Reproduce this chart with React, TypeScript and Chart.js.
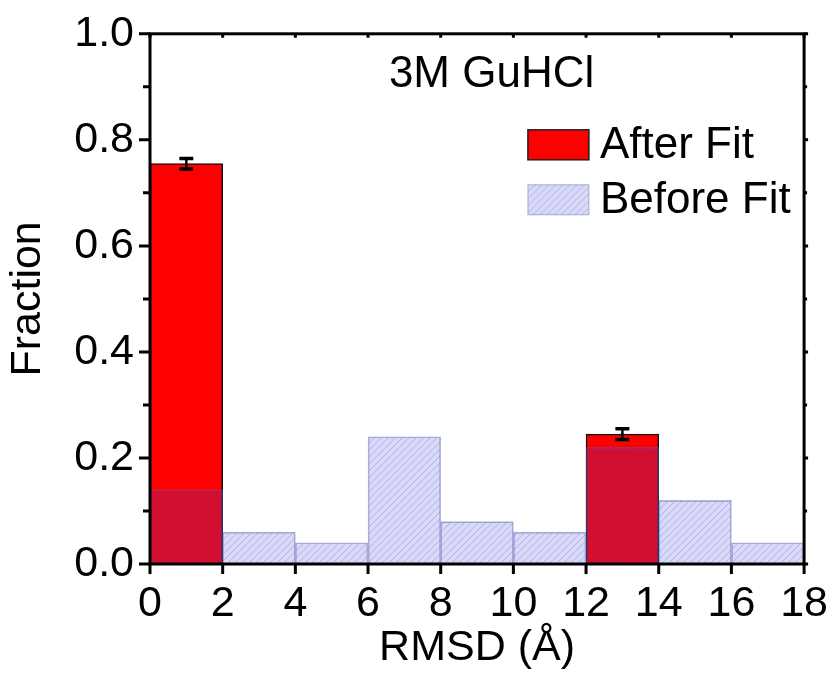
import React, { useEffect, useRef } from "react";
import { Chart, registerables } from "chart.js";

Chart.register(...registerables);

// ---- data ----
const binCenters = [1, 3, 5, 7, 9, 11, 13, 15, 17];
const afterFit: (number | null)[] = [0.755, null, null, null, null, null, 0.245, null, null];
const afterFitErr: (number | null)[] = [0.01, null, null, null, null, null, 0.01, null, null];
const beforeFit = [0.14, 0.06, 0.04, 0.24, 0.08, 0.06, 0.22, 0.12, 0.04];
const xTickValues = [0, 2, 4, 6, 8, 10, 12, 14, 16, 18];
const yTickValues = [0, 0.2, 0.4, 0.6, 0.8, 1.0];
const yMinorTickValues = [0.1, 0.3, 0.5, 0.7, 0.9];
const seriesNames = ["After Fit", "Before Fit"];
const panelTitle = "3M GuHCl";
const xTitle = "RMSD (Å)";
const yTitle = "Fraction";

const FONT = "'Liberation Sans', Arial, Helvetica, sans-serif";

function makeHatch(): CanvasPattern | string {
  const s = 7;
  const c = document.createElement("canvas");
  c.width = s;
  c.height = s;
  const g = c.getContext("2d");
  if (!g) return "rgba(60,60,220,0.2)";
  g.fillStyle = "rgba(60,60,220,0.2)";
  g.fillRect(0, 0, s, s);
  g.strokeStyle = "rgba(70,70,160,0.25)";
  g.lineWidth = 1;
  g.beginPath();
  g.moveTo(0, s);
  g.lineTo(s, 0);
  g.moveTo(-1, 1);
  g.lineTo(1, -1);
  g.moveTo(s - 1, s + 1);
  g.lineTo(s + 1, s - 1);
  g.stroke();
  return g.createPattern(c, "repeat") || "rgba(60,60,220,0.2)";
}

export default function App() {
  const ref = useRef<HTMLCanvasElement | null>(null);

  useEffect(() => {
    if (!ref.current) return;
    const hatch = makeHatch();

    const errorBars = {
      id: "errorBars",
      afterDatasetsDraw(chart: any) {
        const { ctx, scales } = chart;
        const xs = scales.x;
        const ys = scales.y;
        ctx.save();
        ctx.strokeStyle = "#000";
        afterFit.forEach((v, i) => {
          const e = afterFitErr[i];
          if (v == null || e == null) return;
          const x = xs.getPixelForValue(binCenters[i]);
          const y1 = ys.getPixelForValue(v + e);
          const y0 = ys.getPixelForValue(v - e);
          ctx.lineWidth = 2.5;
          ctx.beginPath();
          ctx.moveTo(x, y0);
          ctx.lineTo(x, y1);
          ctx.stroke();
          ctx.lineWidth = 3.5;
          ctx.beginPath();
          ctx.moveTo(x - 7, y0);
          ctx.lineTo(x + 7, y0);
          ctx.moveTo(x - 7, y1);
          ctx.lineTo(x + 7, y1);
          ctx.stroke();
        });
        ctx.restore();
      },
    };

    const frame = {
      id: "frame",
      afterDraw(chart: any) {
        const { ctx, chartArea: a, scales } = chart;
        const xs = scales.x;
        const ys = scales.y;
        ctx.save();
        ctx.strokeStyle = "#000";
        ctx.lineWidth = 3;
        ctx.strokeRect(a.left, a.top, a.right - a.left, a.bottom - a.top);
        ctx.beginPath();
        xTickValues.forEach((v) => {
          const x = xs.getPixelForValue(v);
          ctx.moveTo(x, a.bottom);
          ctx.lineTo(x, a.bottom + 10);
          ctx.moveTo(x, a.top);
          ctx.lineTo(x, a.top + 4);
        });
        yTickValues.forEach((v) => {
          const y = ys.getPixelForValue(v);
          ctx.moveTo(a.left, y);
          ctx.lineTo(a.left - 11, y);
          ctx.moveTo(a.right, y);
          ctx.lineTo(a.right + 4, y);
        });
        yMinorTickValues.forEach((v) => {
          const y = ys.getPixelForValue(v);
          ctx.moveTo(a.left, y);
          ctx.lineTo(a.left - 7, y);
          ctx.moveTo(a.right, y);
          ctx.lineTo(a.right + 3, y);
        });
        ctx.stroke();

        // panel title
        ctx.fillStyle = "#000";
        ctx.font = `44px ${FONT}`;
        ctx.textAlign = "center";
        ctx.textBaseline = "middle";
        ctx.fillText(panelTitle, xs.getPixelForValue(9.4), a.top + 41);

        // legend
        const bx = xs.getPixelForValue(10.4);
        const bw = 61;
        const bh = 30;
        const rows = [a.top + 111, a.top + 166];
        ctx.font = `44px ${FONT}`;
        ctx.textAlign = "left";
        rows.forEach((cy, i) => {
          ctx.save();
          if (i === 0) {
            ctx.fillStyle = "#ff0000";
            ctx.fillRect(bx, cy - bh / 2, bw, bh);
            ctx.strokeStyle = "#222";
            ctx.lineWidth = 1.5;
            ctx.strokeRect(bx, cy - bh / 2, bw, bh);
          } else {
            ctx.fillStyle = hatch as any;
            ctx.translate(bx, cy - bh / 2);
            ctx.fillRect(0, 0, bw, bh);
            ctx.strokeStyle = "rgba(90,90,170,0.45)";
            ctx.lineWidth = 1;
            ctx.strokeRect(0, 0, bw, bh);
          }
          ctx.restore();
          ctx.fillStyle = "#000";
          ctx.fillText(seriesNames[i], bx + bw + 11, cy + 1);
        });
        ctx.restore();
      },
    };

    const chart = new Chart(ref.current, {
      type: "bar",
      data: {
        labels: binCenters,
        datasets: [
          {
            label: seriesNames[0],
            data: binCenters.map((x, i) => ({ x, y: afterFit[i] })) as any,
            backgroundColor: "#ff0000",
            borderColor: "#111",
            borderWidth: 1.5,
            borderSkipped: "bottom",
            order: 2,
            grouped: false,
            categoryPercentage: 1,
            barPercentage: 1,
          },
          {
            label: seriesNames[1],
            data: binCenters.map((x, i) => ({ x, y: beforeFit[i] })) as any,
            backgroundColor: hatch as any,
            borderColor: "rgba(90,90,170,0.45)",
            borderWidth: 1,
            borderSkipped: "bottom",
            order: 1,
            grouped: false,
            categoryPercentage: 1,
            barPercentage: 1,
          },
        ],
      },
      options: {
        animation: false,
        responsive: false,
        maintainAspectRatio: false,
        layout: { padding: { left: 0, right: 12, top: 24, bottom: 0 } },
        plugins: {
          legend: { display: false },
          tooltip: { enabled: false },
        },
        scales: {
          x: {
            type: "linear",
            min: 0,
            max: 18,
            offset: false,
            grid: { display: false },
            border: { display: false },
            afterBuildTicks(scale: any) {
              scale.ticks = xTickValues.map((v) => ({ value: v }));
            },
            afterFit(scale: any) {
              scale.height = 111;
            },
            ticks: {
              color: "#000",
              font: { family: FONT, size: 43 },
              padding: 6,
              maxRotation: 0,
              autoSkip: false,
              callback: (v: any) => String(v),
            },
            title: {
              display: true,
              text: xTitle,
              color: "#000",
              font: { family: FONT, size: 43 },
              padding: { top: 0, bottom: 1 },
            },
          },
          y: {
            min: 0,
            max: 1,
            grid: { display: false },
            border: { display: false },
            afterBuildTicks(scale: any) {
              scale.ticks = yTickValues.map((v) => ({ value: v }));
            },
            afterFit(scale: any) {
              scale.width = 150;
            },
            ticks: {
              color: "#000",
              font: { family: FONT, size: 43 },
              padding: 8,
              autoSkip: false,
              callback: (v: any) => Number(v).toFixed(1),
            },
            title: {
              display: true,
              text: yTitle,
              color: "#000",
              font: { family: FONT, size: 43 },
              padding: { top: 2, bottom: 0 },
            },
          },
        },
      },
      plugins: [errorBars, frame],
    });

    return () => chart.destroy();
  }, []);

  return (
    <div style={{ position: "absolute", left: 0, top: 0, width: 834, height: 675, background: "#fff" }}>
      <canvas ref={ref} width={834} height={675} style={{ display: "block", width: 834, height: 675 }} />
    </div>
  );
}
